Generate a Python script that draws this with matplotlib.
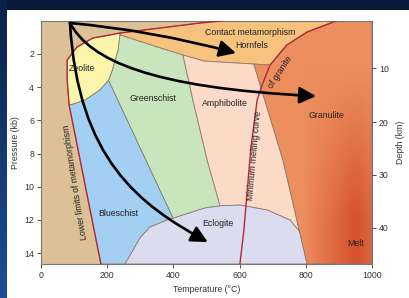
import numpy as np
import matplotlib.pyplot as plt
from matplotlib.colors import LinearSegmentedColormap
from matplotlib.patches import Polygon, Rectangle, FancyArrowPatch
from matplotlib.path import Path

plt.rcParams['font.family'] = ['Liberation Sans', 'DejaVu Sans']

#----- DATA (temperature degC, pressure kb) --------------------------
temp_ticks = [0, 200, 400, 600, 800, 1000]
press_ticks = [2, 4, 6, 8, 10, 12, 14]
depth_labels = [10, 20, 30, 40]
depth_tick_kb = [2.85, 6.10, 9.28, 12.47]
p_max = 14.65

# lower limits of metamorphism (red line), top -> bottom
lower_T = [556, 480, 360, 239, 208, 157, 109, 79, 79, 85, 181]
lower_P = [0.0, 0.14, 0.44, 0.74, 0.86, 1.04, 1.58, 2.37, 3.57, 5.08, p_max]

# zeolite inner arc, top -> bottom
zeo_T = [239, 233, 214, 204, 178, 133, 88]
zeo_P = [0.80, 1.77, 3.09, 3.60, 4.17, 4.78, 5.08]

# bottom of contact metamorphism field, left -> right
contact_T = [239, 360, 429, 492, 643, 692]
contact_P = [0.86, 1.64, 2.07, 2.43, 2.61, 2.67]

# minimum melting curve of granite, bottom -> top
melt_T = [601, 613, 634, 653, 668, 692, 743, 804, 894]
melt_P = [p_max, 12.6, 7.67, 4.78, 3.87, 2.67, 1.46, 0.68, 0.0]

# greenschist / amphibolite boundary, top -> bottom
ga_T = [429, 459, 502, 541]
ga_P = [2.07, 4.78, 8.39, 11.15]

# blueschist / greenschist boundary
bg_T = [204, 399]
bg_P = [3.60, 11.9]

# amphibolite / granulite boundary
gran_T = [643, 731, 804]
gran_P = [2.61, 8.39, p_max]

# eclogite upper arc, left -> right
ecl_T = [254, 299, 329, 381, 399, 429, 495, 541, 601, 683, 752, 781]
ecl_P = [p_max, 13.09, 12.43, 12.0, 11.9, 11.7, 11.28, 11.15, 11.1, 11.4, 12.0, 12.7]

# arrows (bezier control points)
arrow1 = [(87.6, 0.14), (329, 0.56), (589, 1.95)]
arrow2 = [(87.6, 0.14), (148, 2.37), (329, 4.05), (831, 4.54)]
arrow3 = [(87.6, 0.14), (112, 8.39), (299, 11.1), (504, 13.33)]

#----- COLOURS --------------------------------------------------------
c_tan = '#dcc096'
c_zeo = '#faf5aa'
c_contact = '#f6c27e'
c_green = '#c8e5be'
c_blue = '#a3cff2'
c_amph = '#fbdac8'
c_ecl = '#dcdcf0'
c_red = '#b3283a'
c_edge = '#8c7d6e'

#----- FIGURE ---------------------------------------------------------
fig = plt.figure(figsize=(4.09, 2.98), dpi=100)
fig.patch.set_facecolor('#08193a')

# blue strip on the left edge
strip = fig.add_axes([0, 0, 7 / 409, 1])
strip.imshow(np.linspace(0, 1, 100).reshape(-1, 1), aspect='auto',
             cmap=LinearSegmentedColormap.from_list('strip', ['#0a2248', '#1d4e95']))
strip.axis('off')
fig.add_artist(Rectangle((7 / 409, 0), 1, (298 - 10) / 298, transform=fig.transFigure,
                         facecolor='white', edgecolor='none', zorder=0))

ax = fig.add_axes([41 / 409, 34 / 298, 331 / 409, 243.3 / 298])
ax.set_facecolor(c_tan)


def seg(T, P):
    return list(zip(T, P))


def rev(pts):
    return pts[::-1]


lower = seg(lower_T, lower_P)
zeo = seg(zeo_T, zeo_P)
contact = seg(contact_T, contact_P)
melt = seg(melt_T, melt_P)
ga = seg(ga_T, ga_P)
bgline = seg(bg_T, bg_P)
gran = seg(gran_T, gran_P)
ecl = seg(ecl_T, ecl_P)

zeo_poly = lower[3:10] + rev(zeo)
contact_poly = rev(lower[:4]) + [melt[8], melt[7], melt[6], melt[5]] + rev(contact)
green_poly = contact[:3] + ga[1:] + rev(ecl[4:8])[1:] + rev(bgline) + rev(zeo[:4])
blue_poly = lower[9:] + ecl[:5] + rev(bgline) + zeo[3:]
amph_poly = contact[2:5] + [gran[1], ecl[-1]] + rev(ecl[7:]) + rev(ga)
gran_poly = [contact[4], contact[5], melt[6], melt[7], melt[8], (1000, 0), (1000, p_max),
             gran[2], gran[1]]
ecl_poly = ecl + [gran[2]]

for pts, col in [(zeo_poly, c_zeo), (contact_poly, c_contact), (green_poly, c_green),
                 (blue_poly, c_blue), (amph_poly, c_amph), (ecl_poly, c_ecl)]:
    ax.add_patch(Polygon(pts, closed=True, facecolor=col, edgecolor=c_edge, lw=0.6, zorder=1))

gp = Polygon(gran_poly, closed=True, facecolor='none', edgecolor=c_edge, lw=0.6, zorder=2)
ax.add_patch(gp)
# granulite / melt shading, darker towards the hot deep corner
TT, PP = np.meshgrid(np.linspace(640, 1000, 200), np.linspace(0, p_max, 200))
d = np.clip((TT - 790) / 150, 0, 1) * np.clip((PP - 3) / 9, 0, 1)
d = np.where(TT > 960, d * (1 - (TT - 960) / 120), d)
base = np.array([237, 142, 94]) / 255
dark = np.array([214, 84, 46]) / 255
img = base[None, None, :] * (1 - d[..., None]) + dark[None, None, :] * d[..., None]
im = ax.imshow(img, extent=[640, 1000, p_max, 0], aspect='auto', zorder=1.5)
im.set_clip_path(gp)
ax.set_xlim(0, 1000)
ax.set_ylim(p_max, 0)

# red lines
ax.plot(lower_T, lower_P, color=c_red, lw=1.0, zorder=3)
ax.plot(melt_T, melt_P, color=c_red, lw=1.0, zorder=3)

# arrows
for pts in [arrow1, arrow2, arrow3]:
    codes = [Path.MOVETO] + [Path.CURVE3 if len(pts) == 3 else Path.CURVE4] * (len(pts) - 1)
    arr = FancyArrowPatch(path=Path(pts, codes), arrowstyle='-|>,head_length=1.0,head_width=0.5',
                          mutation_scale=10, lw=1.9, color='black', shrinkA=0, shrinkB=0, zorder=4)
    ax.add_patch(arr)

# field labels
fs = 6.3
tc = '#222222'
labels = [
    (631, 0.74, 'Contact metamorphism', 0),
    (638, 1.52, 'Hornfels', 0),
    (124, 2.85, 'Zeolite', 0),
    (338, 4.66, 'Greenschist', 0),
    (556, 4.96, 'Amphibolite', 0),
    (861, 5.68, 'Granulite', 0),
    (233, 11.6, 'Blueschist', 0),
    (535, 12.2, 'Eclogite', 0),
    (949, 13.4, 'Melt', 0),
    (103, 9.7, 'Lower limits of metamorphism', 99),
    (646, 8.1, 'Minimum melting curve', 85),
    (722, 3.09, 'of granite', 57),
]
for x, y, s, rot in labels:
    ax.text(x, y, s, fontsize=fs, color=tc, ha='center', va='center',
            rotation=rot, rotation_mode='anchor', zorder=5)

# axes styling
ax.set_xticks(temp_ticks)
ax.set_yticks(press_ticks)
ax.tick_params(labelsize=6.3, colors='#333333', length=3, width=0.6, pad=2)
for s in ax.spines.values():
    s.set_color('#777777')
    s.set_linewidth(0.8)
ax.set_xlabel('Temperature (°C)', fontsize=6.3, color='#333333', labelpad=4)
ax.set_ylabel('Pressure (kb)', fontsize=6.3, color='#333333', labelpad=3)

ax2 = ax.twinx()
ax2.set_ylim(p_max, 0)
ax2.set_yticks(depth_tick_kb, [str(v) for v in depth_labels])
ax2.tick_params(labelsize=6.3, colors='#333333', length=3, width=0.6, pad=2)
for s in ax2.spines.values():
    s.set_visible(False)
ax2.set_ylabel('Depth (km)', fontsize=6.3, color='#333333', labelpad=5)

fig.savefig('out.png', dpi=100, facecolor=fig.get_facecolor())
